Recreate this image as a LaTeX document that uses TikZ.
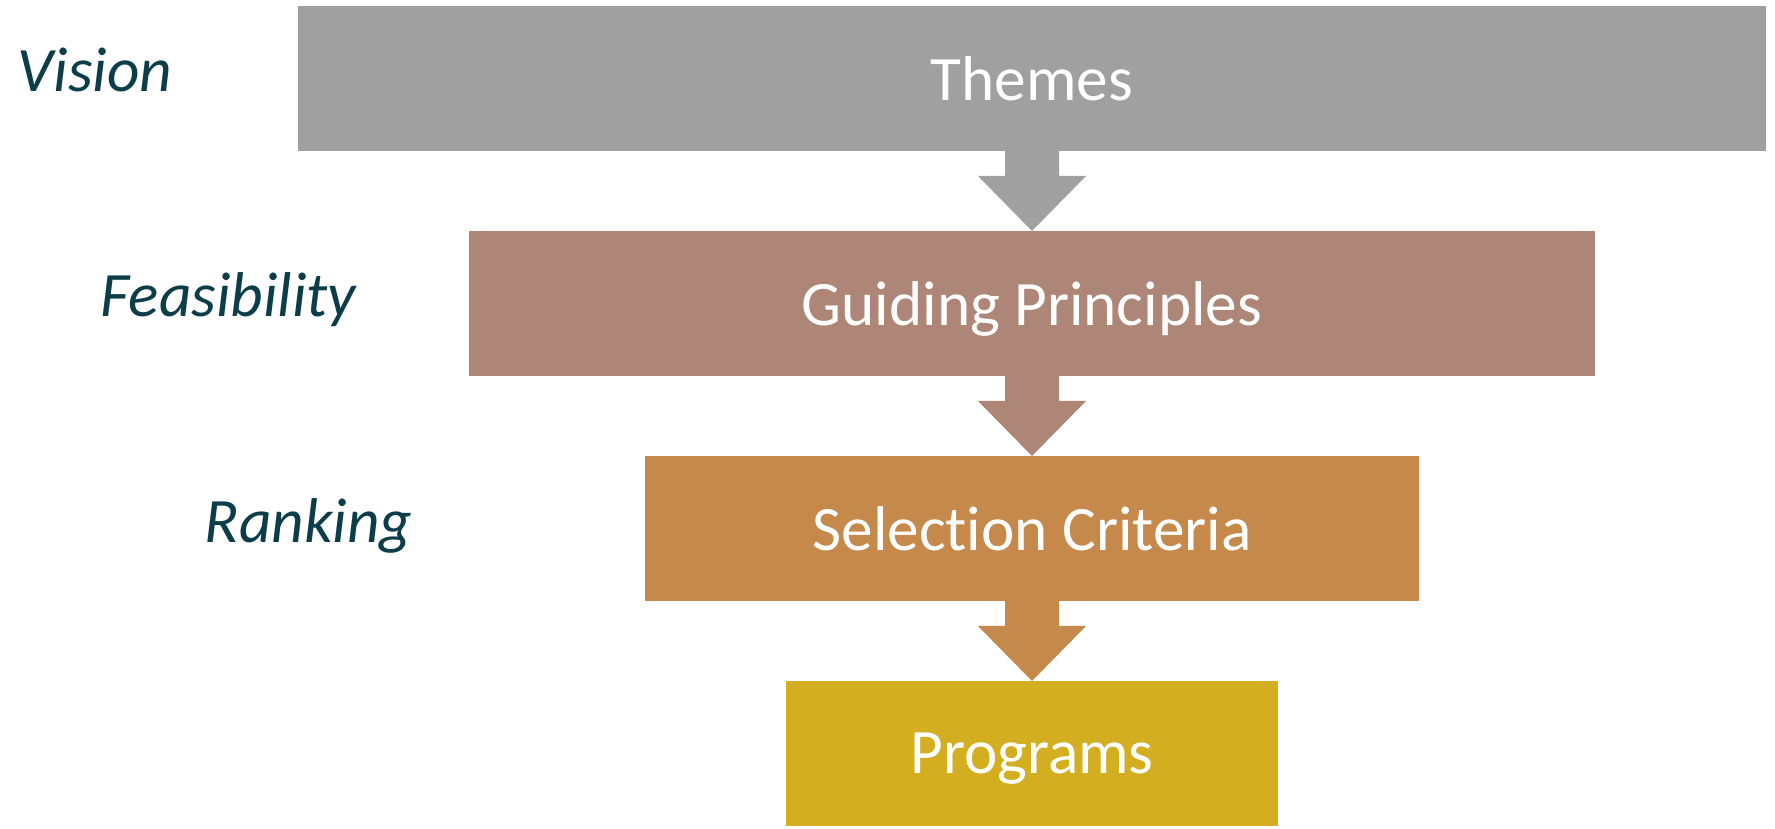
\documentclass[tikz,border=0pt]{standalone}
\usepackage{fontspec}
\setmainfont{Carlito}[Ligatures=NoCommon]
\usetikzlibrary{calc,positioning}
\definecolor{themegray}{HTML}{A0A0A0}
\definecolor{guidebrown}{HTML}{AD8678}
\definecolor{selochre}{HTML}{C4894B}
\definecolor{proggold}{HTML}{D2AE20}
\definecolor{lblteal}{HTML}{0E3D4A}
\newcommand{\flowarrow}[3]{\fill[#3] ($(#1.south)+(-0.27,0)$) -- ++(0,-0.25) -- ++(-0.27,0) -- (#2.north) -- ($(#1.south)+(0.54,-0.25)$) -- ++(-0.27,0) -- ++(0,0.25) -- cycle;}

\begin{document}
\begin{tikzpicture}[box/.style={rectangle, minimum height=1.45cm, inner sep=0pt, outer sep=0pt, text=white, text depth=0pt, font=\fontsize{18}{22}\selectfont},
      lbl/.style={anchor=base west, inner sep=0pt, text=lblteal, font=\fontsize{18}{22}\selectfont\itshape}]
      \useasboundingbox (0,0) rectangle (17.75,-8.29);
      \node[box, fill=themegray, minimum width=14.68cm, anchor=north] (t) at (10.32,-0.06) {Themes};
      \node[box, fill=guidebrown, minimum width=11.26cm, below=0.8cm of t] (g) {Guiding Principles};
      \node[box, fill=selochre, minimum width=7.74cm, below=0.8cm of g] (s) {Selection Criteria};
      \node[box, fill=proggold, minimum width=4.92cm, below=0.8cm of s] (p) {Programs};
      \flowarrow{t}{g}{themegray}
      \flowarrow{g}{s}{guidebrown}
      \flowarrow{s}{p}{selochre}
      \node[lbl] (v) at (0.17,-0.92) {Vision};
      \node[lbl] (f) at (1.00,-3.17) {Feasibility};
      \node[lbl] (r) at (2.04,-5.42) {Ranking};
\end{tikzpicture}
\end{document}
